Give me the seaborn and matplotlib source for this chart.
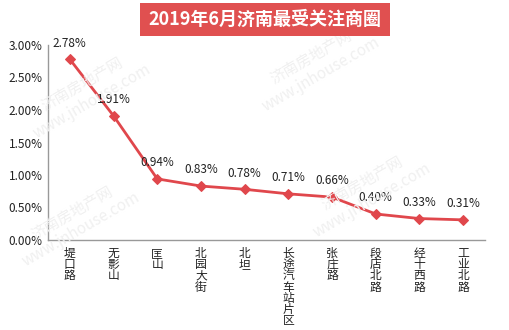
import matplotlib
matplotlib.use("Agg")
import matplotlib.pyplot as plt
import seaborn as sns
import pandas as pd
from matplotlib.patches import Rectangle

categories = ["堤口路", "无影山", "匡山", "北园大街", "北坦", "长途汽车站片区", "张庄路", "段店北路", "经十西路", "工业北路"]
values = [2.78, 1.91, 0.94, 0.83, 0.78, 0.71, 0.66, 0.40, 0.33, 0.31]
yticks = [0, 0.5, 1.0, 1.5, 2.0, 2.5, 3.0]
title = "2019年6月济南最受关注商圈"

sns.set_theme(style="white")
plt.rcParams['font.family'] = ['Noto Sans CJK SC', 'DejaVu Sans']

df = pd.DataFrame({"cat": categories, "val": values, "x": range(len(categories))})

fig = plt.figure(figsize=(5.1, 3.3), dpi=100)
ax = fig.add_axes([48/510, 1-240/330, (485-48)/510, (240-45)/330])

color = "#E0474C"
sns.lineplot(data=df, x="x", y="val", ax=ax, color=color, lw=2, marker="D",
             markersize=5, markeredgecolor=color, markerfacecolor=color, zorder=3)

for i, v in enumerate(values):
    ax.annotate(f"{v:.2f}%", (i, v), xytext=(0, 7), textcoords="offset points",
                ha="center", va="bottom", fontsize=8.5, color="#222222", zorder=4)

ax.set_xlim(-0.5, len(categories) - 0.5)
ax.set_ylim(0, 3.0)
ax.set_yticks(yticks)
ax.set_yticklabels([f"{t:.2f}%" for t in yticks], fontsize=8.5, color="#222222")
ax.set_xticks(range(len(categories)))
ax.set_xticklabels(["\n".join(c) for c in categories], fontsize=8.5, color="#222222",
                   linespacing=0.82, va="top")
ax.tick_params(axis="x", length=0, pad=5)
ax.tick_params(axis="y", length=0, pad=4)
ax.set_xlabel("")
ax.set_ylabel("")
ax.patch.set_alpha(0)
for s in ["top", "right"]:
    ax.spines[s].set_visible(False)
for s in ["left", "bottom"]:
    ax.spines[s].set_color("#999999")
    ax.spines[s].set_linewidth(1)

# watermarks
for (x, y) in [(0.17, 0.72), (0.62, 0.80), (0.15, 0.33), (0.72, 0.42)]:
    fig.text(x, y, "济南房地产网\nwww.jnhouse.com", rotation=30, fontsize=11,
             color="#F0F0F0", ha="center", va="center", zorder=0)

# title banner
fig.patches.append(Rectangle((140/510, 1-36/330), 250/510, 33/330, transform=fig.transFigure,
                             facecolor="#E05050", edgecolor="none", zorder=1))
fig.text(265/510, 1-19.5/330, title, ha="center", va="center", fontsize=13,
         fontweight="bold", color="white", zorder=2)

fig.savefig("out.png", dpi=100)
